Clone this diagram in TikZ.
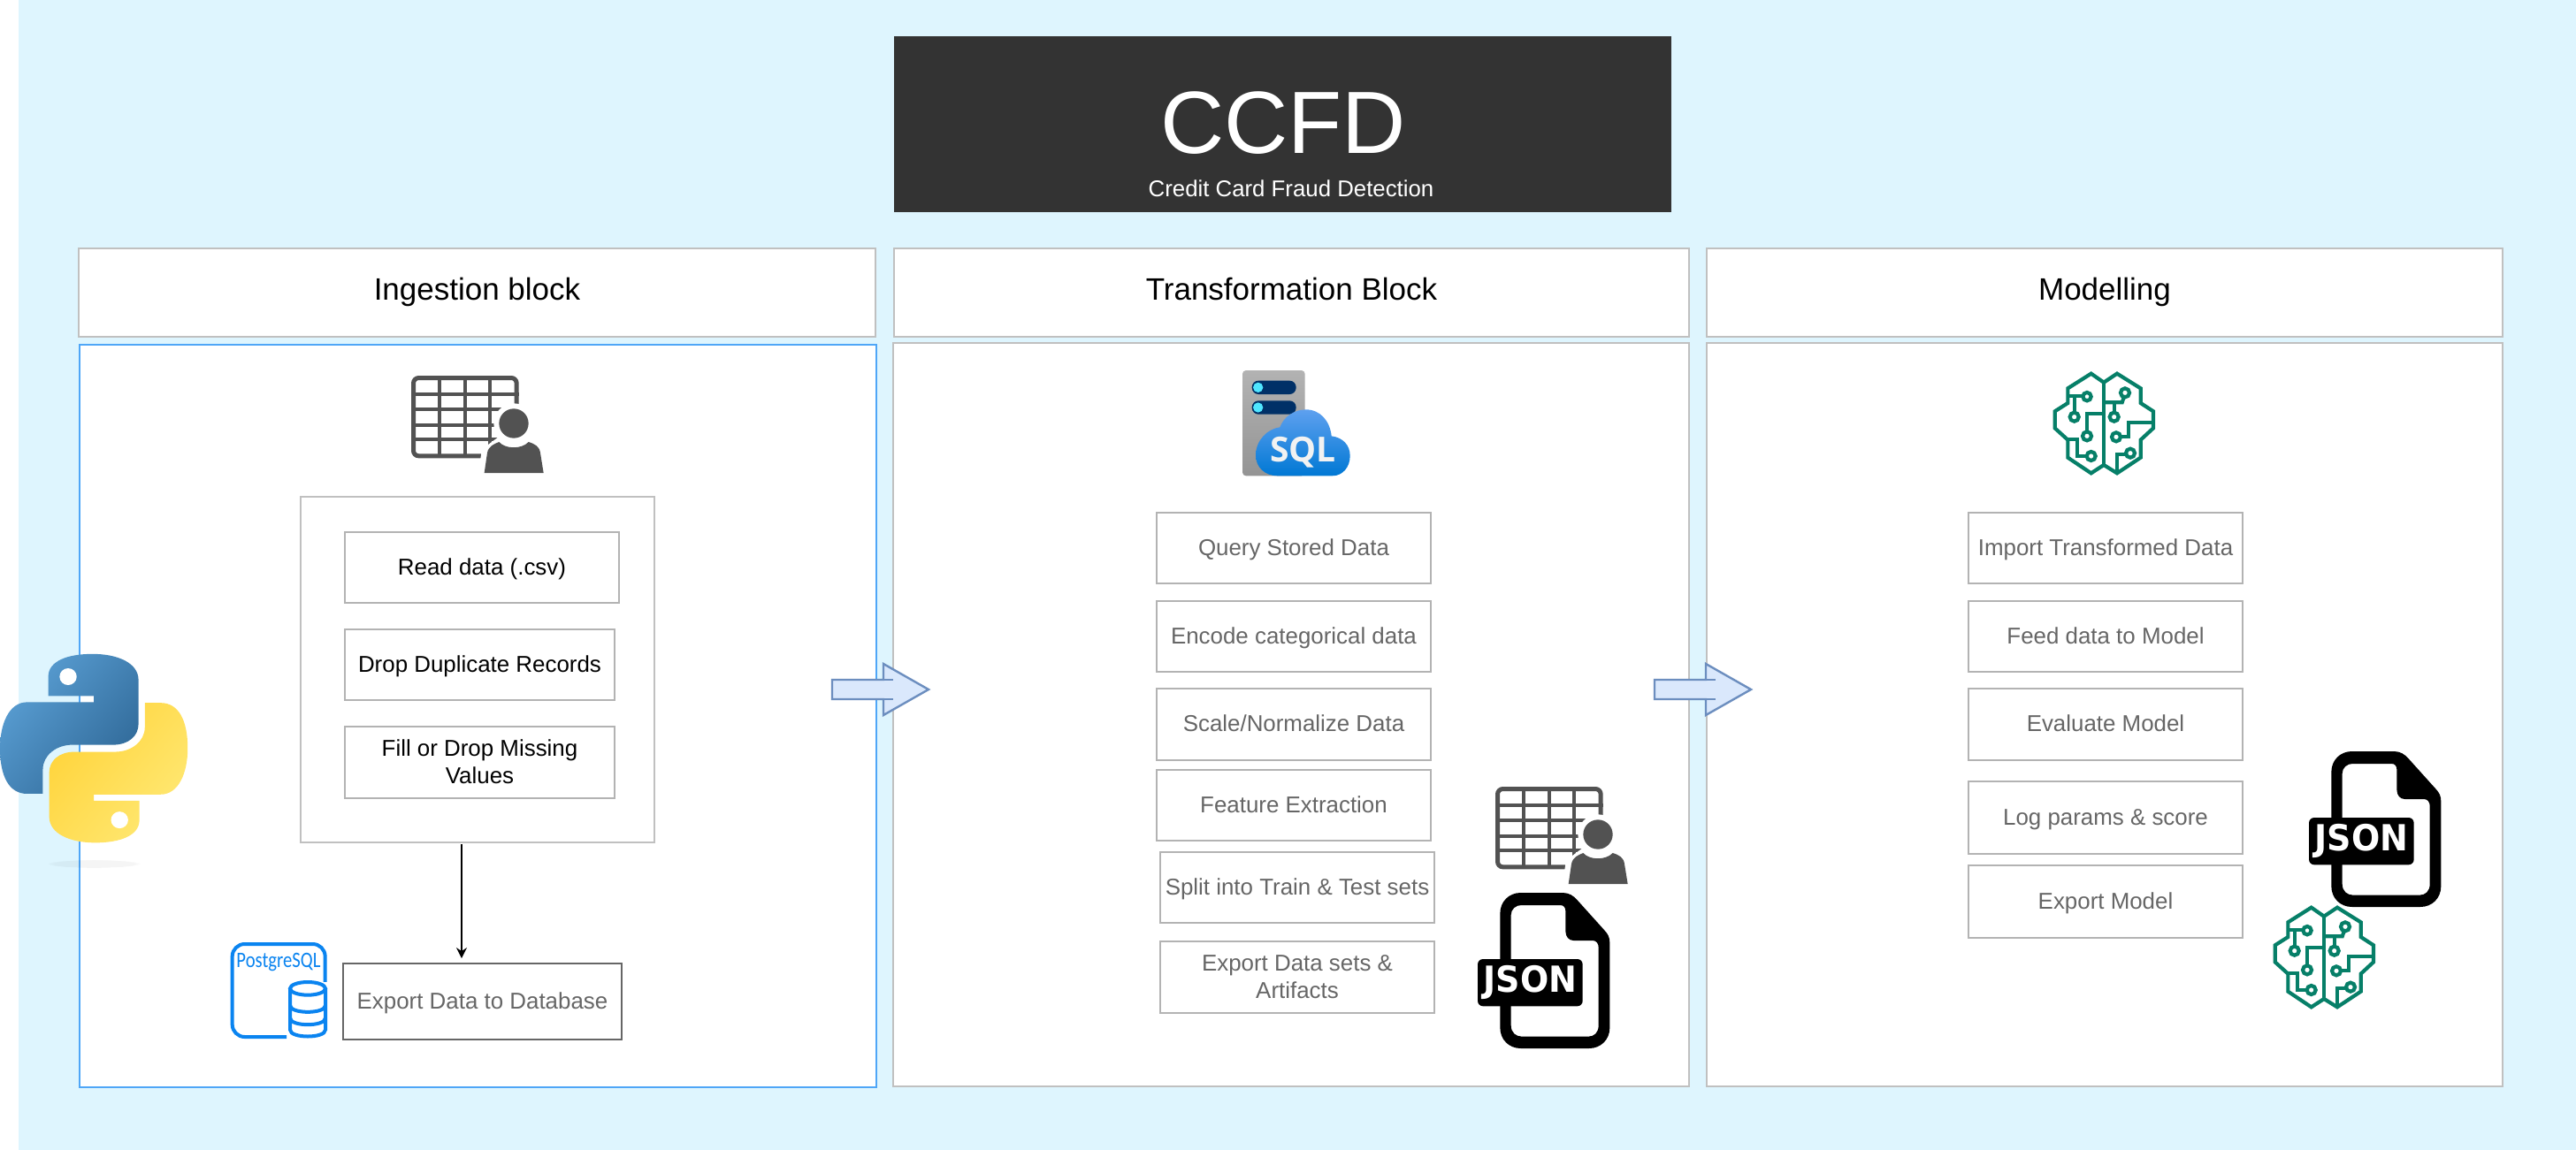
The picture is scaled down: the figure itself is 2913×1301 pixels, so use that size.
\documentclass[tikz,border=0pt]{standalone}
\usepackage{fontspec}
\setmainfont{Liberation Sans}
\newfontfamily\jsonfont{DejaVu Sans}
\newfontfamily\sqlfont{Open Sans}
\newfontfamily\pgfont{Carlito}
\usetikzlibrary{arrows.meta,fadings}
\definecolor{bgblue}{HTML}{DEF5FE}
\definecolor{edgegray}{HTML}{B3B3B3}
\definecolor{panelgray}{HTML}{C0C0C0}
\definecolor{edgeblue}{HTML}{4FA6F7}
\definecolor{txtgray}{HTML}{666666}
\definecolor{icongray}{HTML}{525252}
\definecolor{brain}{HTML}{067F68}
\definecolor{pgblue}{HTML}{0A84F0}
\definecolor{sqldark}{HTML}{003067}
\definecolor{sqlcyan}{HTML}{50E6FF}
\definecolor{cloudtop}{HTML}{5EA0EF}
\definecolor{cloudbot}{HTML}{0078D4}
\definecolor{pya}{HTML}{5A9FD4}
\definecolor{pyb}{HTML}{306998}
\definecolor{pyc}{HTML}{FFE873}
\definecolor{pyd}{HTML}{FFD43B}
\definecolor{arrowedge}{HTML}{6C8EBF}
\definecolor{arrowfill}{HTML}{DAE8FC}
\newcommand\mystrut{\rule[-3.7pt]{0pt}{15.8pt}}
\tikzset{
  x=0.5pt,y=-0.5pt,
  plain/.style={draw=edgegray,line width=0.7pt,fill=white,align=center,inner sep=0pt,font=\fontsize{12.95}{15.8}\selectfont,text=black},
  graybox/.style={plain,text=txtgray},
  header/.style={plain,draw=panelgray,font=\fontsize{17.5}{20}\selectfont},
  content/.style={draw=edgeblue,line width=0.6pt,fill=white,inner sep=0pt},
  contentg/.style={draw=panelgray,line width=0.6pt,fill=white,inner sep=0pt},
  blockarrow/.style={draw=arrowedge,line width=1.2pt,fill=arrowfill},
  braincirc/.style={draw=brain,line width=2.1pt},
}
% box from corners
\newcommand\bx[7][]{%
  \pgfmathsetmacro\bcx{(#3+#5)/2}\pgfmathsetmacro\bcy{(#4+#6)/2}%
  \pgfmathsetmacro\bw{(#5-#3)*0.5}\pgfmathsetmacro\bh{(#6-#4)*0.5}%
  \node[#1,minimum width=\bw pt,minimum height=\bh pt] (#2) at (\bcx,\bcy) {\mystrut #7};}
\newcommand\tabicon[2]{%
 \begin{scope}[shift={(#1,#2)},scale=0.33333]
  \draw[icongray,line width=2.5pt,rounded corners=3pt] (7.5,7.5) rectangle (357.5,272.5);
  \foreach \u in {96,183,268}{\draw[icongray,line width=2.1pt] (\u,0) -- (\u,280);}
  \foreach \v in {63,113,167,217}{\draw[icongray,line width=2.1pt] (0,\v) -- (365,\v);}
  \fill[white] (348,162) ellipse (68 and 68);
  \fill[white] (225,345) -- (240,250) -- (300,205) -- (450,205) -- (470,340) -- (460,345) -- cycle;
  \fill[icongray] (348,162) ellipse (50 and 50);
  \fill[icongray] (248,330) -- (258,262) .. controls (262,240) and (280,232) .. (298,225) .. controls (320,250) and (375,250) .. (398,225) .. controls (420,232) and (435,240) .. (438,262) -- (449,330) -- cycle;
 \end{scope}}
\newcommand\jsonicon[3]{%
 \begin{scope}[shift={(#1,#2)},scale=0.33333]
  \fill[black,even odd rule] (76,70) .. controls (76,30) and (106,0) .. (146,0) -- (288,0) .. controls (310,0) and (325,10) .. (338,25) -- (428,125) .. controls (442,140) and (448,150) .. (448,170) -- (448,458) .. controls (448,498) and (418,528) .. (378,528) -- (146,528) .. controls (106,528) and (76,498) .. (76,458) -- cycle
   (113,75) .. controls (113,55) and (130,42) .. (148,42) -- (280,42) .. controls (292,42) and (298,50) .. (298,62) -- (298,130) .. controls (298,150) and (310,162) .. (325,162) -- (390,162) .. controls (402,162) and (410,172) .. (410,185) -- (410,450) .. controls (410,475) and (395,488) .. (375,488) -- (150,488) .. controls (130,488) and (113,475) .. (113,450) -- cycle;
  \fill[black,rounded corners=3pt] (0,225) rectangle (356,385);
  \node[text=white,inner sep=0pt,font=\jsonfont\bfseries\fontsize{19}{20}\selectfont] (#3) at (178,305) {\scalebox{1}[1.07]{JSON}};
 \end{scope}}
\newcommand\brainicon[2]{%
 \begin{scope}[shift={(#1,#2)},scale=0.33333]
  \begin{scope}[shift={(-72,-38)}]
  \draw[braincirc,line join=miter] (240,70) -- (197,40) -- (118,90) -- (118,140) -- (74,168) -- (74,225) -- (118,265) -- (118,325) -- (197,378) -- (240,350) -- (285,378) -- (365,325) -- (365,265) -- (408,225) -- (408,168) -- (365,140) -- (365,90) -- (285,40) -- cycle;
  \draw[braincirc] (240,70) -- (240,350);
  \draw[braincirc] (118,115) -- (168,115);
  \draw[braincirc] (183,118) circle (14);
  \draw[braincirc] (140,115) -- (140,172);
  \draw[braincirc] (140,187) circle (15);
  \draw[braincirc] (183,237) -- (183,175) -- (240,175);
  \draw[braincirc] (183,252) circle (15);
  \draw[braincirc] (118,262) -- (150,262) -- (150,320) -- (182,320);
  \draw[braincirc] (197,320) circle (15);
  \draw[braincirc] (240,138) -- (302,138) -- (308,120);
  \draw[braincirc] (312,105) circle (15);
  \draw[braincirc] (275,138) -- (275,172);
  \draw[braincirc] (275,187) circle (15);
  \draw[braincirc] (408,205) -- (325,205) -- (325,255) -- (297,255);
  \draw[braincirc] (282,255) circle (15);
  \draw[braincirc] (285,378) -- (285,315) -- (315,315);
  \draw[braincirc] (330,310) circle (15);
  \end{scope}
 \end{scope}}
\newcommand\bigarrow[1]{%
 \begin{scope}[shift={(#1,780)}]
  \draw[blockarrow,line join=miter] (0,-11) -- (58,-11) -- (58,-29) -- (109,0) -- (58,29) -- (58,11) -- (0,11) -- cycle;
  \draw[arrowedge,line width=1.2pt] (58,-11) -- (69,-11) (58,11) -- (69,11);
 \end{scope}}
\newcommand\snake[1]{%
  \path[#1] (107,975) .. controls (107,930) and (150,910) .. (205,910) .. controls (260,910) and (307,935) .. (307,985) -- (307,1110) .. controls (307,1145) and (285,1170) .. (250,1170) -- (160,1170) .. controls (125,1170) and (95,1200) .. (95,1240) -- (95,1310) -- (60,1310) .. controls (20,1310) and (0,1260) .. (0,1180) .. controls (0,1110) and (20,1048) .. (60,1048) -- (208,1048) -- (208,1030) -- (107,1030) -- cycle;}
\begin{document}
\begin{tikzpicture}
\useasboundingbox (0,0) rectangle (2913,1301);
\fill[white] (0,0) rectangle (2913,1301);
\fill[bgblue] (21,0) rectangle (2913,1301);
% title
\bx[draw=none,fill=black!80,inner sep=0pt]{title}{1011}{41}{1890}{240}{}
\node[text=white,inner sep=0pt,font=\fontsize{50}{50}\selectfont] (ccfd) at (1451,139) {CCFD};
\node[text=white,inner sep=0pt,font=\fontsize{12.9}{15}\selectfont] (subt) at (1460,213) {Credit Card Fraud Detection};
% headers
\bx[header]{h1}{89}{281}{990}{381}{Ingestion block}
\bx[header]{h2}{1011}{281}{1910}{381}{Transformation Block}
\bx[header]{h3}{1930}{281}{2830}{381}{Modelling}
% content panels
\bx[content]{c1}{90}{390}{991}{1230}{}
\bx[contentg]{c2}{1010}{388}{1910}{1229}{}
\bx[contentg]{c3}{1930}{388}{2830}{1229}{}
% ingestion
\bx[contentg]{inner}{340}{562}{740}{953}{}
\bx[plain]{read}{390}{602}{700}{682}{Read data (.csv)}
\bx[plain]{drop}{390}{712}{695}{792}{Drop Duplicate Records}
\bx[plain]{fill}{390}{822}{695}{903}{Fill or Drop Missing\\\mystrut Values}
\bx[draw=txtgray,line width=0.9pt,fill=white,inner sep=0pt,text=txtgray,font=\fontsize{12.95}{15.8}\selectfont]{export}{388}{1090}{703}{1176}{Export Data to Database}
\coordinate (ar) at (522,955);
\draw[black,line width=1pt,-{Stealth[length=6pt,width=6pt]},shorten >=2.5pt] (ar) -- (ar |- export.north);
% transformation
\bx[graybox]{t1}{1308}{580}{1618}{660}{Query Stored Data}
\bx[graybox]{t2}{1308}{680}{1618}{760}{Encode categorical data}
\bx[graybox]{t3}{1308}{779}{1618}{860}{Scale/Normalize Data}
\bx[graybox]{t4}{1308}{871}{1618}{951}{Feature Extraction}
\bx[graybox]{t5}{1312}{964}{1622}{1044}{Split into Train \& Test sets}
\bx[graybox]{t6}{1312}{1065}{1622}{1146}{Export Data sets \&\\\mystrut Artifacts}
% modelling
\bx[graybox]{m1}{2226}{580}{2536}{660}{Import Transformed Data}
\bx[graybox]{m2}{2226}{680}{2536}{760}{Feed data to Model}
\bx[graybox]{m3}{2226}{779}{2536}{860}{Evaluate Model}
\bx[graybox]{m4}{2226}{884}{2536}{966}{Log params \& score}
\bx[graybox]{m5}{2226}{979}{2536}{1061}{Export Model}
% icons
\tabicon{465}{425}
\tabicon{1691}{890}
\jsonicon{1671}{1010}{json1}
\jsonicon{2611}{850}{json2}
\brainicon{2323}{422}
\brainicon{2572}{1026}
% sql icon
\begin{scope}[shift={(1350,400)},scale=0.33333]
  \shade[top color=black!30,bottom color=black!42,rounded corners=2pt] (165,57) rectangle (377,415);
  \fill[sqldark,rounded corners=3.7pt] (197,92) rectangle (347,138);
  \fill[sqldark,rounded corners=3.7pt] (197,160) rectangle (347,206);
  \fill[sqlcyan] (218,115) circle (17);
  \fill[sqlcyan] (218,183) circle (17);
  \shade[top color=cloudtop,bottom color=cloudbot] (285,415) .. controls (240,415) and (210,385) .. (210,345) .. controls (210,295) and (250,255) .. (292,250) .. controls (305,215) and (340,190) .. (380,190) .. controls (430,190) and (462,230) .. (467,280) .. controls (505,285) and (530,310) .. (530,347) .. controls (530,385) and (505,415) .. (470,415) -- cycle;
  \node[text=black!5,inner sep=0pt,font=\sqlfont\bfseries\fontsize{19.5}{20}\selectfont] (sqltxt) at (370,335) {SQL};
\end{scope}
% postgres icon
\begin{scope}[shift={(220,1020)},scale=0.33333]
  \draw[pgblue,line width=2pt,rounded corners=7pt] (443,275) -- (443,144) -- (128,144) -- (128,459) -- (312,459);
  \node[text=pgblue,inner sep=0pt,font=\pgfont\fontsize{12.5}{13}\selectfont] (pgtxt) at (285,207) {\resizebox{47.5pt}{\height}{PostgreSQL}};
  \fill[white] (318,272) rectangle (452,466);
  \draw[pgblue,line width=2pt] (324,295) -- (324,435) .. controls (324,465) and (444,465) .. (444,435) -- (444,295);
  \draw[pgblue,line width=2pt] (384,295) ellipse (60 and 22);
  \draw[pgblue,line width=2pt] (324,352) .. controls (324,382) and (444,382) .. (444,352);
  \draw[pgblue,line width=2pt] (324,395) .. controls (324,425) and (444,425) .. (444,395);
\end{scope}
% block arrows
\bigarrow{941}
\bigarrow{1871}
% python logo
\begin{scope}[shift={(0,380)},xscale=0.5102,yscale=0.3954]
  \fill[black,opacity=.04,path fading=circle with fuzzy edge 15 percent] (208,1510) ellipse (105 and 12);
  \snake{top color=pya,bottom color=pyb,shading angle=50,shade}
  \fill[white] (151,975) ellipse (19 and 24);
  \begin{scope}[shift={(416,2360)},xscale=-1,yscale=-1]
   \snake{top color=pyd,bottom color=pyc,shading angle=50,shade}
   \fill[white] (151,975) ellipse (19 and 24);
  \end{scope}
\end{scope}
\end{tikzpicture}
\end{document}
